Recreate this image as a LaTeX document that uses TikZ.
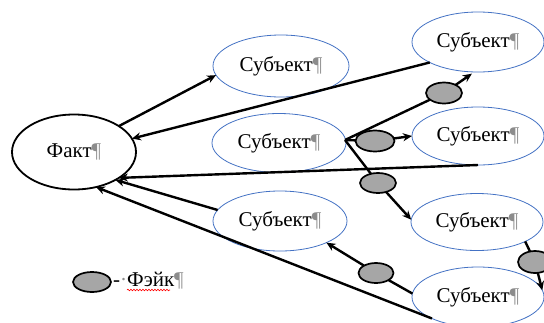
\documentclass[tikz,border=0pt]{standalone}
\usepackage{fontspec}
\setmainfont{Liberation Serif}
\usetikzlibrary{arrows.meta,shapes.geometric,decorations.pathmorphing}
\definecolor{subjblue}{HTML}{4472C4}
\definecolor{fakegray}{HTML}{A6A6A6}
\definecolor{pilgray}{HTML}{8C8C8C}
\newcommand\pilc{\textcolor{pilgray}{¶}}
\begin{document}
\begin{tikzpicture}[x=1pt,y=-1pt,
  every node/.style={font=\fontsize{21}{24}\selectfont},
  subj/.style={ellipse, draw=subjblue, line width=0.8pt, fill=white, minimum width=132pt, minimum height=60pt, inner sep=0pt, outer sep=0pt},
  factnode/.style={ellipse, draw=black, line width=1.8pt, fill=white, minimum width=124pt, minimum height=75pt, inner sep=0pt, outer sep=0pt},
  fake/.style={ellipse, draw=black, fill=fakegray, line width=1.7pt, minimum width=36pt, minimum height=21pt, inner sep=0pt, outer sep=0pt},
  conn/.style={line width=2.4pt, draw=black},
  arr/.style={conn, -{Stealth[length=9pt,width=8pt]}},
]
\useasboundingbox (0,0) rectangle (544,322);
\clip (0,0) rectangle (544,322);

% nodes
\node[factnode] (fact) at (74,152) {Факт\pilc};
\node[subj, minimum width=136pt, minimum height=62pt] (s1) at (281,66) {Субъект\pilc};
\node[subj] (s2) at (478,42) {Субъект\pilc};
\node[subj, minimum width=134pt, minimum height=59pt] (s3) at (279,143) {Субъект\pilc};
\node[subj, minimum height=58pt] (s4) at (478,136) {Субъект\pilc};
\node[subj, minimum height=57pt] (s5) at (477,222) {Субъект\pilc};
\node[subj, minimum width=134pt] (s6) at (280,221) {Субъект\pilc};
\node[subj] (s7) at (478,297) {Субъект\pilc};

\coordinate (c3) at (345,140);

\node[fake] (f1) at (444,93) {};
\node[fake, minimum width=39pt] (f2) at (375,141) {};
\node[fake, minimum height=20pt] (f3) at (378,183) {};
\node[fake, minimum width=35pt, minimum height=20pt] (f4) at (376,273) {};
\node[fake, minimum width=34pt, minimum height=22pt] (f5) at (535,262) {};

% connectors
\draw[arr] (fact.30) -- (s1.188);
\draw[arr] (s2.203) -- (fact.13);
\draw[conn] (c3) -- (f1);
\draw[arr, shorten >=3pt] (f1) -- (s2.263);
\draw[conn] (c3) -- (f2);
\draw[arr] (f2) -- (s4.west);
\draw[conn] (c3) -- (f3);
\draw[arr] (f3) -- (s5.178);
\draw[arr] (s4.south) -- (fact.-30);
\draw[arr] (s6.170) -- (fact.-34);
\draw[arr] (s7.205) -- (fact.-58);
\draw[conn] (s7.177) -- (f4);
\draw[arr] (f4) -- (s6.-25);
\draw[conn] (s5.-22) -- (f5);
\draw[arr] (f5) -- (s7.6);

% legend
\node[fake, minimum width=38pt, minimum height=20pt] (lf) at (92,282) {};
\node[anchor=west, inner sep=0pt] (lt) at (113,281) {-\textcolor{pilgray}{·}Фэйк\pilc};
\draw[red, line width=0.6pt, decorate, decoration={snake, amplitude=0.8pt, segment length=3pt}] (127,290) -- (170,290);
\end{tikzpicture}
\end{document}
